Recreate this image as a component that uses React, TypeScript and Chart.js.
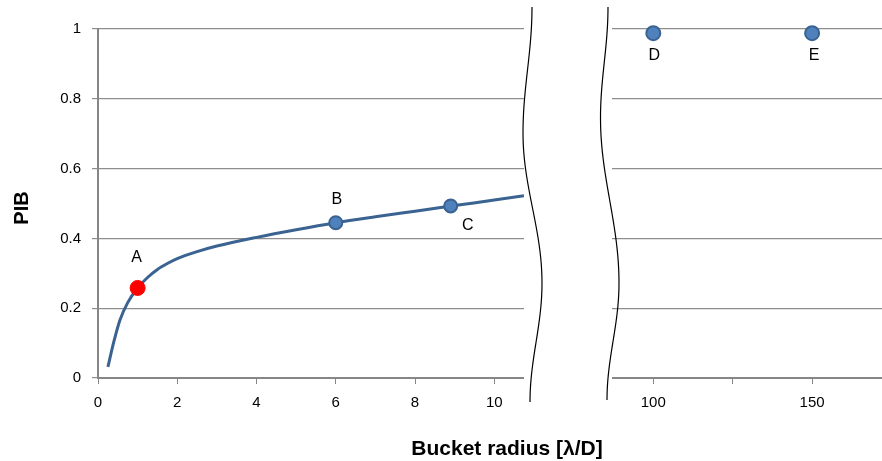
import React, { useEffect, useRef } from 'react';
import { Chart, registerables } from 'chart.js';

Chart.register(...registerables);

// ---- data ----
const curveX = [0.25, 0.4, 0.55, 0.75, 1, 1.25, 1.5, 1.75, 2, 2.5, 3, 4, 5, 6, 7, 8, 9, 10, 10.75];
const curveY = [0.032, 0.104, 0.165, 0.216, 0.258, 0.288, 0.311, 0.328, 0.342, 0.362, 0.378, 0.403, 0.425, 0.445, 0.462, 0.478, 0.494, 0.51, 0.522];

const pointALabels = ['A'];
const pointAX = [1];
const pointAY = [0.258];

const pointsBCLabels = ['B', 'C'];
const pointsBCX = [6, 8.9];
const pointsBCY = [0.445, 0.493];

const pointsDELabels = ['D', 'E'];
const pointsDEX = [100, 150];
const pointsDEY = [0.988, 0.988];

const yTicks = [0, 0.2, 0.4, 0.6, 0.8, 1];
const yTickLabels = ['0', '0.2', '0.4', '0.6', '0.8', '1'];
const leftXTicks = [0, 2, 4, 6, 8, 10];
const leftXTickLabels = ['0', '2', '4', '6', '8', '10'];
const rightXTicks = [100, 125, 150];
const rightXTickLabels = ['100', '', '150'];

const yTitle = 'PIB';
const xTitle = 'Bucket radius [λ/D]';

// ---- styles ----
const FONT = '"Liberation Sans", Arial, sans-serif';
const GRID = '#8e8e8e';
const AXIS = '#868686';
const LINE = '#3A6391';
const BLUE = '#4F81BD';
const BLUE_EDGE = '#3A6391';
const RED = '#FF0000';

// label offsets (px) relative to their marker, by dataset index
const labelOffsets: Record<number, number[][]> = {
  1: [[-1, -30]],
  2: [[1, -23], [17, 20]],
  3: [[1, 22], [2, 22]],
};
const labelTexts: Record<number, string[]> = {
  1: pointALabels,
  2: pointsBCLabels,
  3: pointsDELabels,
};

function drawBreak(ctx: CanvasRenderingContext2D, baseX: number, pts: number[][]) {
  ctx.beginPath();
  ctx.moveTo(baseX + pts[0][0], pts[0][1]);
  for (let i = 0; i < pts.length - 1; i++) {
    const [xa, ya] = pts[i];
    const [xb, yb] = pts[i + 1];
    for (let k = 1; k <= 24; k++) {
      const s = k / 24;
      const y = ya + (yb - ya) * s;
      const x = xa + (xb - xa) * (1 - Math.cos(Math.PI * s)) / 2;
      ctx.lineTo(baseX + x, y);
    }
  }
  ctx.stroke();
}

const decorPlugin = {
  id: 'decor',
  beforeDatasetsDraw(chart: any) {
    const ctx = chart.ctx as CanvasRenderingContext2D;
    const gap = chart.scales.gap;
    const { top, bottom } = chart.chartArea;
    ctx.save();
    ctx.fillStyle = '#ffffff';
    ctx.fillRect(gap.left, top - 6, gap.right - gap.left, bottom - top + 16);
    ctx.restore();
  },
  afterDraw(chart: any) {
    const ctx = chart.ctx as CanvasRenderingContext2D;
    const gap = chart.scales.gap;
    const { top, bottom } = chart.chartArea;
    ctx.save();
    // axis break marks
    ctx.strokeStyle = '#000';
    ctx.lineWidth = 1.2;
    drawBreak(ctx, gap.left + 8, [[0, top - 22], [-9, top + 104], [10, top + 254], [-2, bottom + 24]]);
    drawBreak(ctx, gap.right - 4, [[0, top - 22], [-7.5, top + 89], [11, top + 254], [-1, bottom + 22]]);

    // point labels
    ctx.fillStyle = '#000';
    ctx.font = `16px ${FONT}`;
    ctx.textAlign = 'center';
    ctx.textBaseline = 'middle';
    Object.keys(labelTexts).forEach((k) => {
      const di = Number(k);
      const meta = chart.getDatasetMeta(di);
      labelTexts[di].forEach((t, j) => {
        const el = meta.data[j];
        if (!el) return;
        const [dx, dy] = labelOffsets[di][j];
        ctx.fillText(t, el.x + dx, el.y + dy);
      });
    });

    // axis titles
    ctx.font = `bold 21px ${FONT}`;
    ctx.fillText(xTitle, 507, 449);
    ctx.font = `bold 20px ${FONT}`;
    ctx.translate(22, 208);
    ctx.rotate(-Math.PI / 2);
    ctx.fillText(yTitle, 0, 0);
    ctx.restore();
  },
};

const tickFont = { family: FONT, size: 15 };

const fixBottom = (s: any) => {
  s.height = 83;
  s.paddingLeft = 0;
  s.paddingRight = 0;
};

export default function App() {
  const ref = useRef<HTMLCanvasElement | null>(null);

  useEffect(() => {
    if (!ref.current) return;
    const chart = new Chart(ref.current, {
      type: 'scatter',
      data: {
        datasets: [
          {
            label: 'curve',
            data: curveX.map((x, i) => ({ x, y: curveY[i] })),
            xAxisID: 'x',
            yAxisID: 'y',
            showLine: true,
            borderColor: LINE,
            borderWidth: 3,
            pointRadius: 0,
            cubicInterpolationMode: 'monotone',
            fill: false,
            order: 5,
          } as any,
          {
            label: 'A',
            data: pointAX.map((x, i) => ({ x, y: pointAY[i] })),
            xAxisID: 'x',
            yAxisID: 'y',
            backgroundColor: RED,
            borderColor: RED,
            borderWidth: 1,
            pointRadius: 7.5,
            clip: false,
            order: 1,
          } as any,
          {
            label: 'BC',
            data: pointsBCX.map((x, i) => ({ x, y: pointsBCY[i] })),
            xAxisID: 'x',
            yAxisID: 'y',
            backgroundColor: BLUE,
            borderColor: BLUE_EDGE,
            borderWidth: 2,
            pointRadius: 6.5,
            clip: false,
            order: 1,
          } as any,
          {
            label: 'DE',
            data: pointsDEX.map((x, i) => ({ x, y: pointsDEY[i] })),
            xAxisID: 'x2',
            yAxisID: 'y',
            backgroundColor: BLUE,
            borderColor: BLUE_EDGE,
            borderWidth: 2,
            pointRadius: 7,
            clip: false,
            order: 1,
          } as any,
        ],
      },
      options: {
        animation: false,
        responsive: false,
        events: [],
        layout: { autoPadding: false, padding: { top: 29, left: 0, right: 0, bottom: 0 } },
        plugins: { legend: { display: false }, tooltip: { enabled: false } },
        scales: {
          y: {
            type: 'linear',
            position: 'left',
            min: 0,
            max: 1,
            afterBuildTicks: (s: any) => {
              s.ticks = yTicks.map((v) => ({ value: v }));
            },
            afterFit: (s: any) => {
              s.width = 98;
            },
            ticks: {
              callback: (_v: any, i: number) => yTickLabels[i],
              font: tickFont,
              color: '#000',
              padding: 11,
            },
            grid: { color: GRID, lineWidth: 1.2, tickLength: 6, drawTicks: true },
            border: { color: AXIS, width: 2 },
          },
          x: {
            type: 'linear',
            position: 'bottom',
            stack: 'xs',
            stackWeight: 426,
            min: 0,
            max: 10.75,
            afterBuildTicks: (s: any) => {
              s.ticks = leftXTicks.map((v) => ({ value: v }));
            },
            afterFit: fixBottom,
            ticks: {
              callback: (_v: any, i: number) => leftXTickLabels[i],
              font: tickFont,
              color: '#000',
              padding: 10,
              autoSkip: false,
              maxRotation: 0,
            },
            grid: { drawOnChartArea: false, drawTicks: true, tickLength: 6, color: AXIS, lineWidth: 1 },
            border: { color: AXIS, width: 2 },
          },
          gap: {
            type: 'linear',
            position: 'bottom',
            stack: 'xs',
            stackWeight: 88,
            min: 0,
            max: 1,
            afterFit: fixBottom,
            ticks: { display: false },
            grid: { display: false },
            border: { display: false },
          },
          x2: {
            type: 'linear',
            position: 'bottom',
            stack: 'xs',
            stackWeight: 270,
            min: 87,
            max: 172,
            afterBuildTicks: (s: any) => {
              s.ticks = rightXTicks.map((v) => ({ value: v }));
            },
            afterFit: fixBottom,
            ticks: {
              callback: (_v: any, i: number) => rightXTickLabels[i],
              font: tickFont,
              color: '#000',
              padding: 10,
              autoSkip: false,
              maxRotation: 0,
            },
            grid: { drawOnChartArea: false, drawTicks: true, tickLength: 6, color: AXIS, lineWidth: 1 },
            border: { color: AXIS, width: 2 },
          },
        } as any,
      },
      plugins: [decorPlugin],
    });
    return () => chart.destroy();
  }, []);

  return (
    <div style={{ position: 'fixed', left: 0, top: 0, width: 882, height: 461, background: '#fff' }}>
      <canvas ref={ref} width={882} height={461} style={{ display: 'block' }} />
    </div>
  );
}
